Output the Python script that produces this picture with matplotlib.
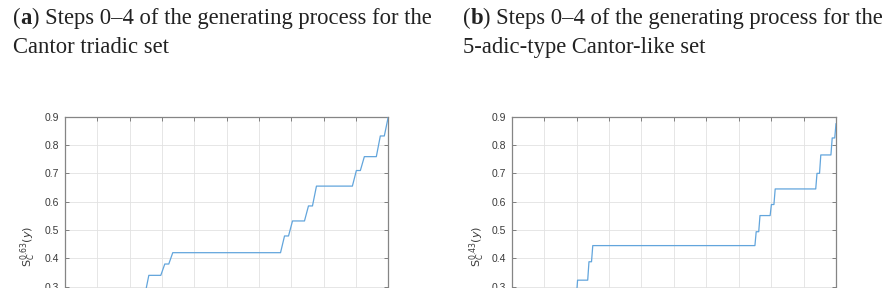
import numpy as np
import matplotlib
matplotlib.use("Agg")
import matplotlib.pyplot as plt

# ---------------- data ----------------
# (a) Cantor triadic set: plateaus (gaps of the set) and the level of S on each
left_gap_start = [1/81, 1/27, 7/81, 1/9, 19/81, 7/27, 25/81, 1/3,
                  55/81, 19/27, 61/81, 7/9, 73/81, 25/27, 79/81]
left_gap_end = [2/81, 2/27, 8/81, 2/9, 20/81, 8/27, 26/81, 2/3,
                56/81, 20/27, 62/81, 8/9, 74/81, 26/27, 80/81]
left_level = [0.025, 0.06, 0.10, 0.18, 0.27, 0.34, 0.38, 0.42,
              0.479, 0.532, 0.585, 0.655, 0.71, 0.759, 0.832]
left_end_value = 0.9
left_ylabel = r"$\mathrm{S}_{C}^{0.63}(y)$"

# (b) 5-adic-type Cantor-like set
right_gap_start = [1/256, 1/64, 13/256, 1/16, 49/256, 13/64, 61/256, 1/4,
                   193/256, 49/64, 205/256, 13/16, 241/256, 61/64, 253/256]
right_gap_end = [3/256, 3/64, 15/256, 3/16, 51/256, 15/64, 63/256, 3/4,
                 195/256, 51/64, 207/256, 15/16, 243/256, 63/64, 255/256]
right_level = [0.02, 0.05, 0.09, 0.17, 0.26, 0.323, 0.388, 0.445,
               0.494, 0.551, 0.59, 0.645, 0.70, 0.765, 0.825]
right_end_value = 0.875
right_ylabel = r"$\mathrm{S}_{C}^{0.43}(y)$"

title_a = [("(", "normal"), ("a", "bold"), (") Steps 0\u20134 of the generating process for the", "normal")]
title_a2 = "Cantor triadic set"
title_b = [("(", "normal"), ("b", "bold"), (") Steps 0\u20134 of the generating process for the", "normal")]
title_b2 = "5-adic-type Cantor-like set"

x_ticks = np.round(np.arange(0, 1.01, 0.1), 1)
y_ticks = np.round(np.arange(0.3, 0.91, 0.1), 1)

# ---------------- figure ----------------
W, H = 885, 288
fig = plt.figure(figsize=(W / 100, H / 100), dpi=100)
fig.patch.set_facecolor("white")

LINE_COLOR = "#62a5dc"
SERIF = ["Liberation Serif", "DejaVu Serif"]
SANS = ["Liberation Sans", "DejaVu Sans"]


def build_curve(gs, ge, lv, end):
    xs, ys = [0.0], [0.0]
    for a, b, v in zip(gs, ge, lv):
        xs += [a, b]
        ys += [v, v]
    xs.append(1.0)
    ys.append(end)
    return np.array(xs), np.array(ys)


def make_axes(left_px, right_px, top_px, gs, ge, lv, end, ylabel, lab_x):
    px_per_unit = 283.3  # pixels per 1.0 in y
    h_px = 0.9 * px_per_unit
    bottom_px = top_px + h_px
    ax = fig.add_axes([left_px / W, 1 - bottom_px / H,
                       (right_px - left_px) / W, h_px / H])
    x, y = build_curve(gs, ge, lv, end)
    ax.plot(x, y, color=LINE_COLOR, lw=0.9, zorder=3)
    ax.set_xlim(0, 1)
    ax.set_ylim(0, 0.9)
    ax.set_xticks(x_ticks)
    ax.set_yticks(y_ticks)
    ax.set_yticklabels([f"{t:.1f}" for t in y_ticks])
    ax.grid(True, color="#e2e2e2", lw=0.6, zorder=0)
    ax.set_axisbelow(True)
    ax.tick_params(direction="in", length=3, width=0.6, color="#6e6e6e",
                   top=True, right=True, labelsize=7.5, labelcolor="#3a3a3a",
                   pad=4, labelbottom=False)
    for lab in ax.get_yticklabels():
        lab.set_family(SANS)
    for s in ax.spines.values():
        s.set_color("#858585")
        s.set_linewidth(0.9)
    ax.set_ylabel(ylabel, fontsize=8, color="#3a3a3a")
    ax.yaxis.set_label_coords(lab_x, 0.49)
    return ax


axL = make_axes(65, 388.3, 116.7, left_gap_start, left_gap_end, left_level,
                left_end_value, left_ylabel, -0.083)
axR = make_axes(511.7, 836, 116.7, right_gap_start, right_gap_end, right_level,
                right_end_value, right_ylabel, -0.076)

# ---------------- titles ----------------
renderer = fig.canvas.get_renderer()
TARGET_W = 417.0
probe = fig.text(0, 0, "".join(p for p, _ in title_a), fontsize=10, family=SERIF)
w10 = probe.get_window_extent(renderer).width
probe.remove()
FS = 10 * TARGET_W / w10


def rich_line(x_px, base_px, parts):
    x = x_px
    for txt, wt in parts:
        t = fig.text(x / W, 1 - base_px / H, txt, fontsize=FS, family=SERIF,
                     weight=wt, va="baseline", ha="left", color="#222222")
        x += t.get_window_extent(renderer).width


rich_line(12.7, 24, title_a)
rich_line(12.7, 53.3, [(title_a2, "normal")])
rich_line(462.7, 24, title_b)
rich_line(462.7, 53.3, [(title_b2, "normal")])

fig.savefig("out.png", dpi=100, facecolor="white")
